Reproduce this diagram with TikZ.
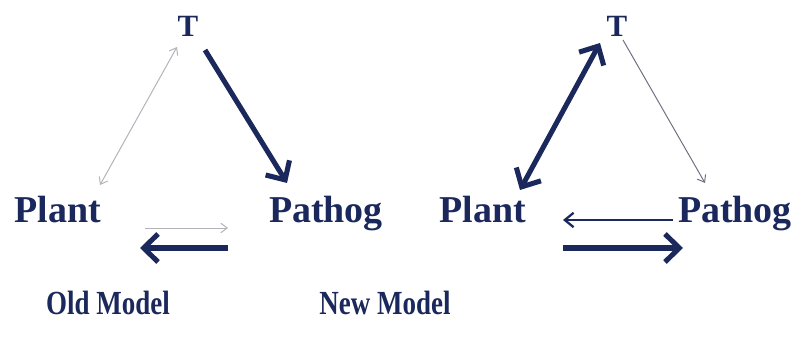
\documentclass[tikz,border=0pt]{standalone}
\usepackage{fontspec}
\setmainfont{Liberation Serif}
\usepackage{tikz}
\usetikzlibrary{arrows.meta}
\definecolor{navy}{RGB}{27,40,92}
\definecolor{lightgrey}{RGB}{178,178,186}
\definecolor{midgrey}{RGB}{110,112,128}
\tikzstyle{species}=[anchor=base,inner sep=0pt,text=navy,font=\fontsize{27}{30}\selectfont\bfseries]
\tikzstyle{tvertex}=[anchor=base,inner sep=0pt,text=navy,font=\fontsize{22}{25}\selectfont\bfseries]
\tikzstyle{model}=[anchor=base,inner sep=0pt,text=navy,font=\fontsize{24}{27}\selectfont\bfseries]
\tikzstyle{weak} = [draw,lightgrey,line width=0.7pt,-{Straight Barb[length=1.6mm,width=2.4mm]}]
\tikzstyle{medium} = [draw,navy,line width=1.6pt,-{Straight Barb[length=2.2mm,width=3.6mm]}]
\tikzstyle{strong} = [draw,navy,line width=3.6pt,-{Straight Barb[length=3.6mm,width=7mm]}]

\begin{document}
\begin{tikzpicture}

    \useasboundingbox (0,0) rectangle (19.975,-8.5);

    % old model
    \foreach \x/\y/\name/\txt in {1.45/-5.575/oPlant/Plant, 8.15/-5.575/oPathog/Pathog}
        \node[species] (\name) at (\x, \y) {\txt};
    \node[tvertex] (oT) at (4.7,-0.925) {T};
    \node[model] (oModel) at (2.7,-7.875) {\scalebox{0.8}[1]{Old Model}};

    \path[weak, {Straight Barb[length=1.6mm,width=2.4mm]}-{Straight Barb[length=1.6mm,width=2.4mm]}]
        ([shift={(1.05,0.95)}]oPlant.base) -- ([shift={(-0.275,-0.25)}]oT.base);
    \path[strong] ([shift={(0.425,-0.325)}]oT.base) -- ([shift={(-0.975,1.0)}]oPathog.base);
    \path[weak] ([shift={(2.175,-0.125)}]oPlant.base) -- ([shift={(-2.45,-0.125)}]oPathog.base);
    \path[strong] ([shift={(-2.45,-0.625)}]oPathog.base) -- ([shift={(2.05,-0.625)}]oPlant.base);

    % new model
    \foreach \x/\y/\name/\txt in {12.075/-5.575/nPlant/Plant, 18.375/-5.575/nPathog/Pathog}
        \node[species] (\name) at (\x, \y) {\txt};
    \node[tvertex] (nT) at (15.425,-0.925) {T};
    \node[model] (nModel) at (9.625,-7.875) {\scalebox{0.8}[1]{New Model}};

    \path[strong, {Straight Barb[length=3.6mm,width=7mm]}-{Straight Barb[length=3.6mm,width=7mm]}]
        ([shift={(0.925,0.825)}]nPlant.base) -- ([shift={(-0.425,-0.15)}]nT.base);
    \path[weak, midgrey] ([shift={(0.15,-0.075)}]nT.base) -- ([shift={(-0.75,1.0)}]nPathog.base);
    \path[medium] ([shift={(-1.55,0.075)}]nPathog.base) -- ([shift={(2.0,0.075)}]nPlant.base);
    \path[strong] ([shift={(2.0,-0.625)}]nPlant.base) -- ([shift={(-1.3,-0.625)}]nPathog.base);

\end{tikzpicture}
\end{document}
